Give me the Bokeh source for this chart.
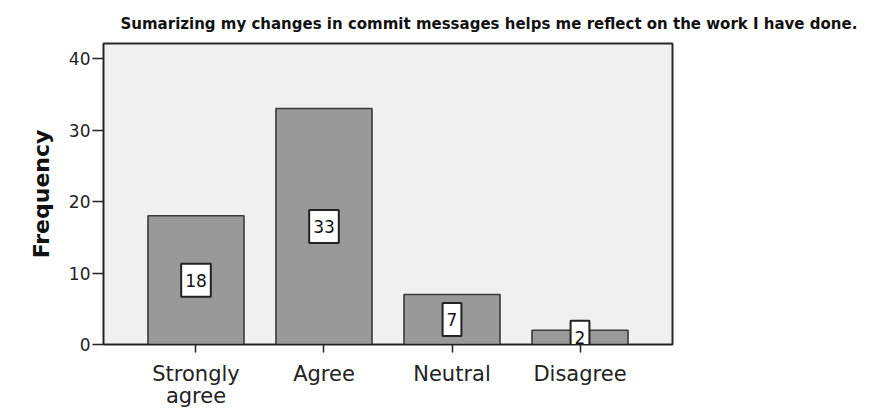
from bokeh.plotting import figure
from bokeh.models import ColumnDataSource, Range1d, FixedTicker, LinearAxis
from bokeh.embed import file_html
from bokeh.resources import INLINE
from bokeh.core.properties import value

categories = ["Strongly agree", "Agree", "Neutral", "Disagree"]
tick_line1 = ["Strongly", "Agree", "Neutral", "Disagree"]
tick_line2 = ["agree", " ", " ", " "]
frequency = [18, 33, 7, 2]
y_ticks = [0, 10, 20, 30, 40]

title_text = "Sumarizing my changes in commit messages helps me reflect on the work I have done."

positions = list(range(len(categories)))
src = ColumnDataSource(dict(
    x=positions,
    cat=categories,
    freq=frequency,
    mid=[v / 2 for v in frequency],
    lab=[str(v) for v in frequency],
))

W, H = 884, 410
p = figure(
    x_range=Range1d(-0.7225, 3.7225),
    y_range=Range1d(0, 42.1),
    width=W, height=H,
    min_border_left=103, min_border_right=W - 672,
    min_border_top=43, min_border_bottom=H - 344,
    output_backend="svg", toolbar_location=None,
    title=title_text,
)

p.title.text_font = "DejaVu Sans"
p.title.text_font_style = "bold"
p.title.text_font_size = "15px"
p.title.align = "left"
p.title.offset = 17
p.title.standoff = 22
p.title.text_color = "#111111"

p.background_fill_color = "#f0f0f0"
p.border_fill_color = "white"
p.outline_line_color = "#2a2a2a"
p.outline_line_width = 2
p.grid.grid_line_color = None

p.vbar(x="x", top="freq", width=0.75, source=src,
       fill_color="#999999", line_color="#3a3a3a", line_width=1.6)

p.text(x="x", y="mid", text="lab", source=src,
       text_align="center", text_baseline="middle",
       text_font=value("DejaVu Sans"), text_font_size="17px",
       text_color="#111111",
       background_fill_color="white",
       border_line_color="#222222", border_line_width=2,
       padding=(4, 10))

# y axis
p.yaxis.ticker = FixedTicker(ticks=y_ticks)
p.yaxis.axis_label = "Frequency"
p.yaxis.axis_label_text_font = "DejaVu Sans"
p.yaxis.axis_label_text_font_style = "bold"
p.yaxis.axis_label_text_font_size = "22px"
p.yaxis.axis_label_text_color = "#111111"
p.yaxis.axis_label_standoff = 12
p.yaxis.major_label_text_font = "DejaVu Sans"
p.yaxis.major_label_text_font_size = "17px"
p.yaxis.major_label_text_color = "#222222"
p.yaxis.major_label_standoff = 2
p.yaxis.major_tick_out = 11
p.yaxis.major_tick_in = 0
p.yaxis.minor_tick_line_color = None

# x axis (first line of the category labels)
p.xaxis.ticker = FixedTicker(ticks=positions)
p.xaxis.major_label_overrides = dict(zip(positions, tick_line1))
p.xaxis.major_label_text_font = "DejaVu Sans"
p.xaxis.major_label_text_font_size = "21px"
p.xaxis.major_label_text_color = "#222222"
p.xaxis.major_label_standoff = 9
p.xaxis.major_tick_out = 8
p.xaxis.major_tick_in = 0
p.xaxis.minor_tick_line_color = None

for ax in (p.xaxis, p.yaxis):
    ax.axis_line_color = "#222222"
    ax.axis_line_width = 1
    ax.major_tick_line_color = "#222222"
    ax.major_tick_line_width = 1.5

# second line of the category labels
ax2 = LinearAxis(
    ticker=FixedTicker(ticks=positions),
    major_label_overrides=dict(zip(positions, tick_line2)),
    major_label_text_font="DejaVu Sans",
    major_label_text_font_size="21px",
    major_label_text_color="#222222",
    major_label_standoff=-5,
    major_tick_out=0, major_tick_in=0,
    minor_tick_line_color=None,
    axis_line_color=None, major_tick_line_color=None,
)
p.add_layout(ax2, "below")

open("out.html", "w").write(file_html(p, INLINE))
